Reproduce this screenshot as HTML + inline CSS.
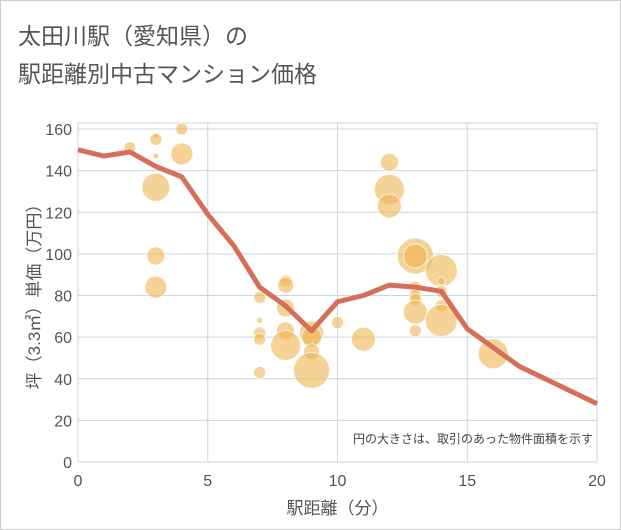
<!DOCTYPE html>
<html><head><meta charset="utf-8"><style>
body{margin:0;background:#fff;}
#wrap{position:relative;width:619px;height:528px;border:1px solid #ccc;background:#fff;font-family:"Liberation Sans","Noto Sans CJK JP",sans-serif;}
.t{position:absolute;left:17px;font-size:23px;color:#555;}
</style></head><body>
<div id="wrap">
<div class="t" style="top:16px">太田川駅（愛知県）の</div>
<div class="t" style="top:54px">駅距離別中古マンション価格</div>
<svg id="svg" width="621" height="530" style="position:absolute;left:-1px;top:-1px"></svg>
</div>
<script>
const xTicks=[0,5,10,15,20];
const yTicks=[0,20,40,60,80,100,120,140,160];
const lineX=[0,1,2,3,4,5,6,7,8,9,10,11,12,13,14,15,16,17,18,19,20];
const lineY=[150,147,149,142,137,119,104,84,75,63,77,80,85,84,82,64,55,46,40,34,28];
const bubX=[2,3,3,3,3,3,3,4,4,7,7,7,7,7,8,8,8,8,8,9,9,9,9,10,11,12,12,12,13,13,13,13,13,13,13,14,14,14,14,14,16];
const bubY=[151,157,155,147,132,99,84,160,148,79,68,62,59,43,87,85,74,63,56,62,60,53,44,67,59,144,131,123,99,99,84,80,78,72,63,92,87,82,75,68,52];
const bubR=[6,3,6,3,14,9,11,6,11,6,3,6,6,6,6,8,9,9,15,12,10,8,18,6,12,9,15,12,18,12,6,6,6,12,6,16,4,6,6,16,15];
const L=78,R=597,T=123,B=462;
const sx=v=>L+(v-0)/20*(R-L);
const sy=v=>B-v/160*(B-123-6);
const svg=document.getElementById('svg');
const NS='http://www.w3.org/2000/svg';
function mk(t,a){const e=document.createElementNS(NS,t);for(const k in a)e.setAttribute(k,a[k]);svg.appendChild(e);return e;}
let fr=mk('rect',{x:L,y:T,width:R-L,height:B-T,fill:'#fff',stroke:'#c9d3dd'});


yTicks.forEach(v=>{
 const g=mk('line',{x1:L,x2:R,y1:sy(v),y2:sy(v),stroke:'#c9d6e3','stroke-width':1});
 
 
 const t=mk('text',{x:L-6,y:sy(v)+6,'text-anchor':'end','font-size':16,fill:'#555'});t.textContent=v;
 
 
});
xTicks.forEach(v=>{
 const g=mk('line',{x1:sx(v),x2:sx(v),y1:T,y2:B,stroke:'#c9d6e3','stroke-width':1});
 
 
 const t=mk('text',{x:sx(v),y:B+24,'text-anchor':'middle','font-size':16,fill:'#555'});t.textContent=v;
 
 
});
bubX.forEach((x,i)=>{
 const c=mk('circle',{cx:sx(x),cy:sy(bubY[i]),r:bubR[i],fill:'rgba(238,180,80,0.6)',stroke:'rgba(255,255,255,0.7)','stroke-width':1});
 
 
});
const p=mk('polyline',{points:lineX.map((x,i)=>sx(x)+','+sy(lineY[i])).join(' '),fill:'none',stroke:'#d4705a','stroke-width':5,'stroke-linejoin':'round'});


const n=mk('text',{x:R-4,y:443,'text-anchor':'end','font-size':12,fill:'#444'});n.textContent='円の大きさは、取引のあった物件面積を示す';


const xt=mk('text',{x:(L+R)/2,y:514,'text-anchor':'middle','font-size':17,fill:'#555'});xt.textContent='駅距離（分）';


const yt=mk('text',{x:0,y:0,'text-anchor':'middle','font-size':17,fill:'#555',transform:'translate(40,'+((T+B)/2)+') rotate(-90)'});yt.textContent='坪（3.3㎡）単価（万円）';


</script>
</body></html>
